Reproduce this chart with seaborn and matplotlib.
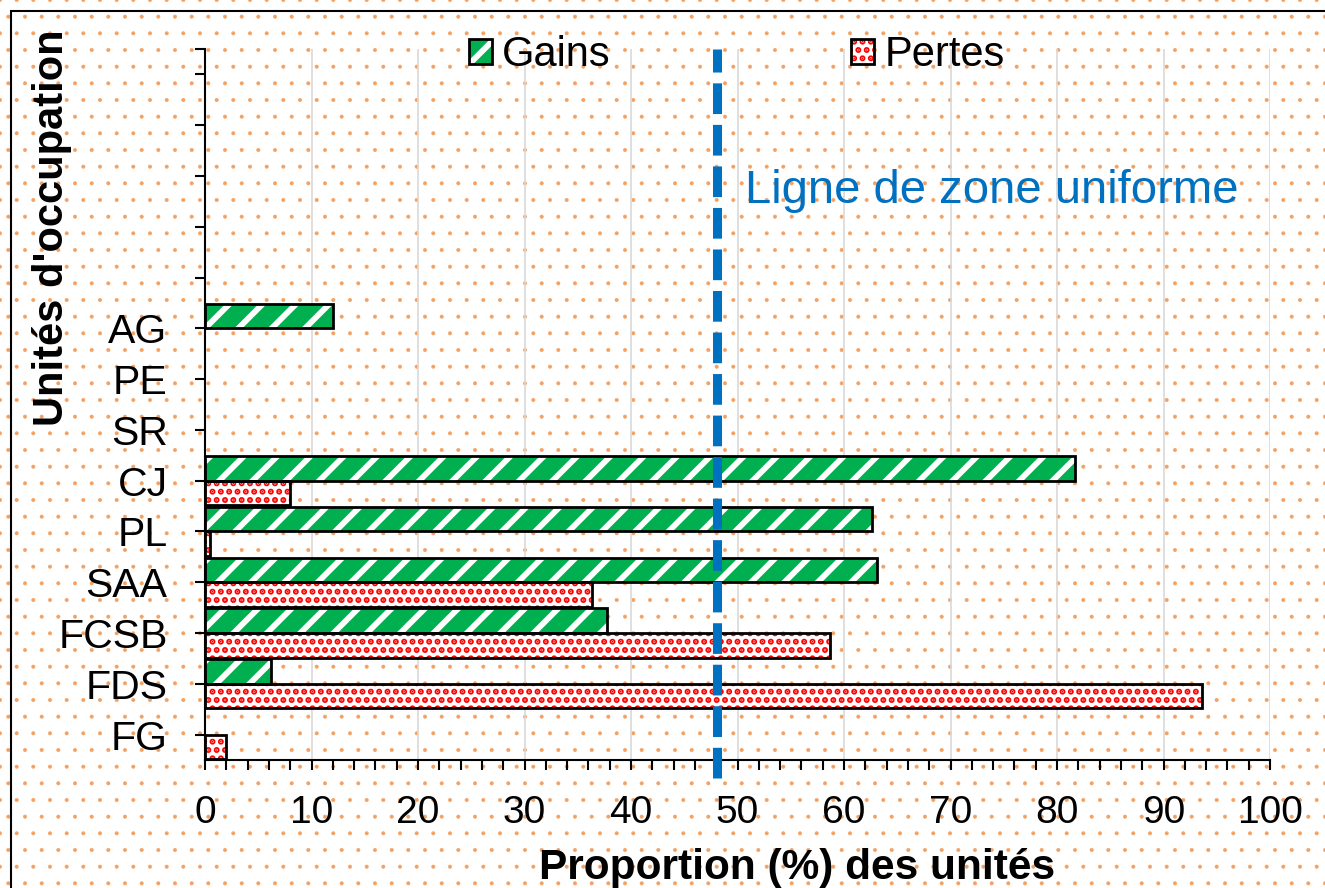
import numpy as np
import pandas as pd
import matplotlib
matplotlib.use("Agg")
import matplotlib.pyplot as plt
from matplotlib.patches import Patch, Rectangle
import seaborn as sns

# Values (proportion in %), units listed top to bottom
units = ["AG", "PE", "SR", "CJ", "PL", "SAA", "FCSB", "FDS", "FG"]
gains = [12.0, 0, 0, 81.7, 62.6, 63.1, 37.7, 6.2, 0]
pertes = [0, 0, 0, 8.0, 0.5, 36.3, 58.7, 93.6, 2.0]
series = ["Gains", "Pertes"]
uniform_line = 48.1
empty_slots = 5          # blank category rows above AG
x_ticks = list(range(0, 101, 10))

df = pd.DataFrame({
    "unit": units * 2,
    "type": ["Gains"] * len(units) + ["Pertes"] * len(units),
    "value": gains + pertes,
})

GREEN = "#00B050"
RED = "#FF0000"
BLUE = "#0070C0"
DOT = "#F4A060"

sns.set_style("white")
plt.rcParams["font.family"] = ["Liberation Sans", "DejaVu Sans"]
plt.rcParams["text.color"] = "black"
plt.rcParams["axes.labelcolor"] = "black"
plt.rcParams["xtick.color"] = "black"
plt.rcParams["ytick.color"] = "black"

# Figure with dotted background
with plt.rc_context({"hatch.linewidth": 0.4}):
    fig = plt.figure(figsize=(13.25, 8.88), dpi=100)
fig.patch.set_facecolor("white")
fig.patch.set_edgecolor(DOT)
fig.patch.set_hatch(".")

ax = fig.add_axes([205 / 1325, 1 - 760 / 888, 1065 / 1325, 711 / 888])
ax.patch.set_alpha(0)

sns.barplot(data=df, x="value", y="unit", hue="type", order=units,
            hue_order=series, palette={"Gains": GREEN, "Pertes": "white"},
            saturation=1, width=0.97, orient="h", legend=False, ax=ax)

# hatch, hatch colour, hatch width for each series
styles = {0: ("/", "white", 4.2), 1: ("..", RED, 3.0)}
for i, cont in enumerate(ax.containers):
    hatch, hcol, hlw = styles[i]
    for bar in cont:
        if bar.get_width() == 0:
            bar.set_visible(False)
            continue
        bar.set_hatch(hatch)
        bar.set_edgecolor(hcol)
        bar.set_hatch_linewidth(hlw)
        bar.set_linewidth(0)
        ax.add_patch(Rectangle(bar.get_xy(), bar.get_width(), bar.get_height(),
                               fill=False, edgecolor="black", lw=2,
                               zorder=bar.get_zorder() + 0.1))

# Axes
ax.set_xlim(0, 100)
ax.set_ylim(len(units) - 0.5, -0.5 - empty_slots)
ax.set_yticks(np.arange(-empty_slots, len(units)), [""] * empty_slots + units)
ax.set_yticks([-0.5 - empty_slots], minor=True)
ax.set_xticks(x_ticks)
ax.set_xticks(np.arange(0, 101, 2), minor=True)
ax.tick_params(axis="both", which="both", direction="out", length=7,
               width=1.5, color="black", bottom=True, left=True)
ax.tick_params(axis="x", which="major", labelsize=28, pad=18.5)
ax.tick_params(axis="y", which="major", labelsize=29.5, pad=20)
for s in ["top", "right"]:
    ax.spines[s].set_visible(False)
for s in ["left", "bottom"]:
    ax.spines[s].set_color("black")
    ax.spines[s].set_linewidth(1.5)
ax.grid(axis="x", which="major", color="#D9D9D9", lw=1.2)
ax.set_axisbelow(True)

# Uniform zone line
ax.axvline(uniform_line, ymin=-0.025, ymax=1, color=BLUE, lw=6.5,
           linestyle=(0, (3.4, 1.2)), clip_on=False, zorder=5)
ax.text(50.7, -2.47, "Ligne de zone uniforme", color=BLUE, fontsize=34,
        va="baseline", ha="left")

# Legend
handles = []
for i, fc in enumerate([GREEN, "white"]):
    hatch, hcol, hlw = styles[i]
    fillp = Patch(facecolor=fc, edgecolor=hcol, hatch=hatch, lw=0)
    edgep = Patch(facecolor="none", edgecolor="black", lw=2)
    handles.append((fillp, edgep))
leg = fig.legend(handles, series, loc="center left",
                 bbox_to_anchor=(469 / 1325, 1 - 55 / 888), ncol=2,
                 frameon=False, fontsize=30, handlelength=0.55,
                 handleheight=0.55, handletextpad=0.24, columnspacing=5.78,
                 borderpad=0, borderaxespad=0)
# keys are copies, so give them the hatch widths again
for key in leg.get_patches():
    if key.get_hatch() == "/":
        key.set_hatch_linewidth(styles[0][2])
    elif key.get_hatch() == "..":
        key.set_hatch_linewidth(styles[1][2])

ax.set_xlabel("Proportion (%) des unités", fontsize=30.5, fontweight="bold")
ax.xaxis.set_label_coords(0.556, -0.124)
ax.set_ylabel("Unités d'occupation", fontsize=30, fontweight="bold")
ax.yaxis.set_label_coords(-0.125, 0.749)

# Outer frame (cut off at right/bottom like the source)
fig.add_artist(Rectangle((11 / 1325, -0.1), 1.2, 1.1 - 11 / 888,
                         transform=fig.transFigure, fill=False,
                         edgecolor="black", lw=1.5))

fig.savefig("out.png", dpi=100)
